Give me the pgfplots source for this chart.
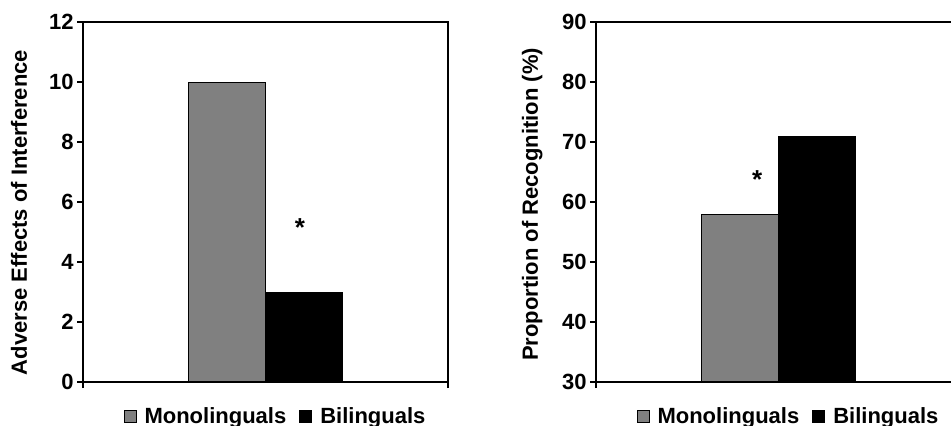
\documentclass[border=0pt]{standalone}
\usepackage{fontspec}
\setmainfont{Liberation Sans}
\usepackage{pgfplots}
\pgfplotsset{compat=1.18}
\definecolor{monogray}{HTML}{808080}
\newcommand{\chartfont}{\bfseries\fontsize{11}{13}\selectfont}
\pgfplotsset{
  panel/.style={
    scale only axis, width=182.5pt, height=180pt,
    xmin=-0.5, xmax=0.5,
    xtick={-0.5,0.5}, xticklabels={},
    tick align=outside, xtick pos=bottom, ytick pos=left,
    major tick length=3pt,
    axis line style={line width=0.6pt},
    tick style={line width=0.6pt, black},
    ybar=0pt, bar width=38.5pt,
    ticklabel style={font=\chartfont},
    yticklabel style={inner sep=1.5pt},
    /pgf/number format/assume math mode=true,
    label style={font=\chartfont},
    legend columns=2,
    legend image code/.code={\draw[#1,line width=0.5pt] (0pt,-3pt) rectangle (6pt,3pt);},
    legend style={draw=none, fill=none, font=\chartfont, inner sep=0pt,
      /tikz/every odd column/.append style={column sep=2pt},
      /tikz/every even column/.append style={column sep=4.5pt}},
    clip=true,
  },
  monostyle/.style={fill=monogray, draw=black, line width=0.5pt},
  bistyle/.style={fill=black, draw=black, line width=0.5pt},
}
\begin{document}
\begin{tikzpicture}
\useasboundingbox (0pt,0pt) rectangle (475.5pt,212.5pt);
\clip (0pt,0pt) rectangle (475.5pt,212.5pt);
% Left panel
\begin{axis}[panel, at={(41.5pt,21.5pt)}, anchor=south west,
  ymin=0, ymax=12, ytick={0,2,4,6,8,10,12},
  ylabel={Adverse Effects of Interference},
  ylabel style={at={(axis description cs:-0.154,0.471)}, anchor=base, inner sep=0pt},
  legend style={at={(axis description cs:0.53,-0.096)}, anchor=center}]
\addplot[monostyle] coordinates {(0,10)};
\addplot[bistyle] coordinates {(0,3)};
\addlegendentry{Monolinguals}
\addlegendentry{Bilinguals}
\draw[line width=1.2pt] (rel axis cs:0,1) -- (rel axis cs:0,0) -- (rel axis cs:1,0);
\node[font=\bfseries\fontsize{13}{15}\selectfont, anchor=base] at (axis cs:0.0945,4.84) {*};
\end{axis}
% Right panel
\begin{axis}[panel, at={(298pt,21.5pt)}, anchor=south west,
  ymin=30, ymax=90, ytick={30,40,50,60,70,80,90},
  ylabel={Proportion of Recognition (\%)},
  ylabel style={at={(axis description cs:-0.159,0.493)}, anchor=base, inner sep=0pt},
  legend style={at={(axis description cs:0.53,-0.096)}, anchor=center}]
\addplot[monostyle] coordinates {(0,58)};
\addplot[bistyle] coordinates {(0,71)};
\addlegendentry{Monolinguals}
\addlegendentry{Bilinguals}
\draw[line width=1.2pt] (rel axis cs:0,1) -- (rel axis cs:0,0) -- (rel axis cs:1,0);
\node[font=\bfseries\fontsize{13}{15}\selectfont, anchor=base] at (axis cs:-0.0585,62.2) {*};
\end{axis}
\end{tikzpicture}
\end{document}
